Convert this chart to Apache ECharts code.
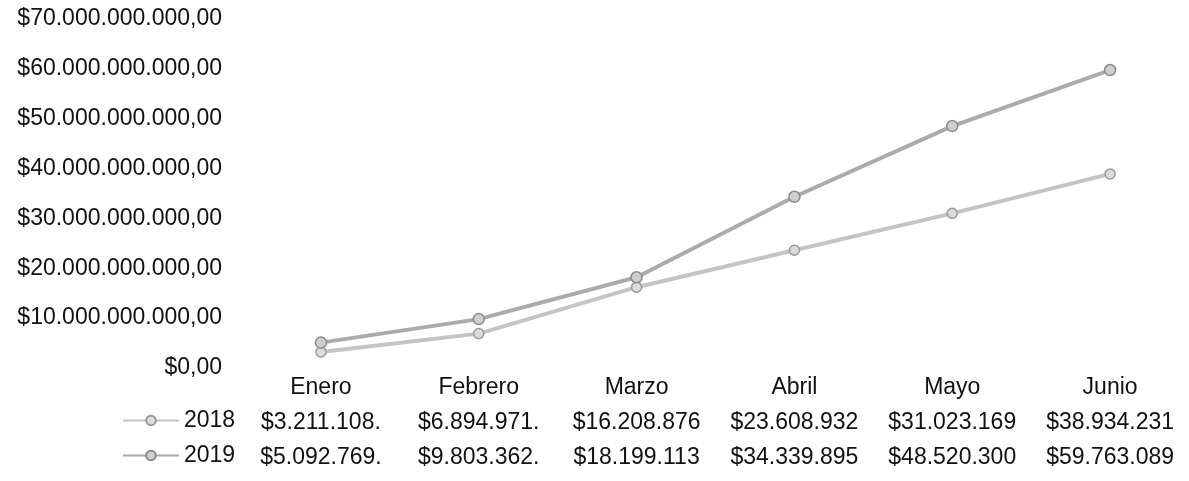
<!DOCTYPE html>
<html>
<head>
<meta charset="utf-8">
<script src="https://cdn.jsdelivr.net/npm/echarts@6/dist/echarts.min.js"></script>
<style>
  html, body { margin: 0; padding: 0; background: #fff; }
  #chart { width: 1189px; height: 481px; }
</style>
</head>
<body>
<div id="chart"></div>
<script>
// meses y valores (tabla de datos)
var meses = ['Enero', 'Febrero', 'Marzo', 'Abril', 'Mayo', 'Junio'];
var anios = ['2018', '2019'];
var valores2018 = [3211108000, 6894971000, 16208876000, 23608932000, 31023169000, 38934231000];
var valores2019 = [5092769000, 9803362000, 18199113000, 34339895000, 48520300000, 59763089000];
var ejeMax = 70000000000;
var ejeIntervalo = 10000000000;

// formato moneda: $70.000.000.000,00
function moneda(v) {
    var s = Math.round(v).toString().replace(/\B(?=(\d{3})+(?!\d))/g, '.');
    return '$' + s + ',00';
}
// la celda de la tabla corta el texto
function celda(v) {
    return moneda(v).slice(0, 11);
}

var chart = echarts.init(document.getElementById('chart'));
var fuente = 'Liberation Sans, Arial, sans-serif';

var option = {
    animation: false,
    backgroundColor: '#fff',
    textStyle: { fontFamily: fuente },
    grid: {
        left: 242,
        right: -13,
        top: 19,
        bottom: 113
    },
    legend: {
        data: anios,
        orient: 'vertical',
        left: 122,
        top: 403,
        padding: 0,
        itemGap: 0,
        itemWidth: 56,
        itemHeight: 12,
        textStyle: { fontSize: 23, color: '#111', lineHeight: 35, fontFamily: fuente }
    },
    xAxis: {
        type: 'category',
        data: meses,
        axisLine: { show: false },
        axisTick: { show: false },
        axisLabel: {
            interval: 0,
            margin: 2,
            fontSize: 23,
            lineHeight: 35,
            color: '#111',
            fontFamily: fuente,
            formatter: function (value, i) {
                return value + '\n' + celda(valores2018[i]) + '\n' + celda(valores2019[i]);
            }
        }
    },
    yAxis: {
        type: 'value',
        min: 0,
        max: ejeMax,
        interval: ejeIntervalo,
        splitLine: { show: false },
        axisLine: { show: false },
        axisTick: { show: false },
        axisLabel: {
            margin: 20,
            fontSize: 23,
            color: '#111',
            fontFamily: fuente,
            formatter: moneda
        }
    },
    series: [{
        name: '2018',
        type: 'line',
        data: valores2018,
        symbol: 'circle',
        symbolSize: 10,
        lineStyle: { color: '#c4c4c4', width: 4 },
        itemStyle: { color: '#dcdcdc', borderColor: '#9a9a9a', borderWidth: 1.5 }
    }, {
        name: '2019',
        type: 'line',
        data: valores2019,
        symbol: 'circle',
        symbolSize: 11,
        lineStyle: { color: '#ababab', width: 4 },
        itemStyle: { color: '#cfcfcf', borderColor: '#8a8a8a', borderWidth: 1.5 }
    }]
};
chart.setOption(option);
</script>
</body>
</html>
